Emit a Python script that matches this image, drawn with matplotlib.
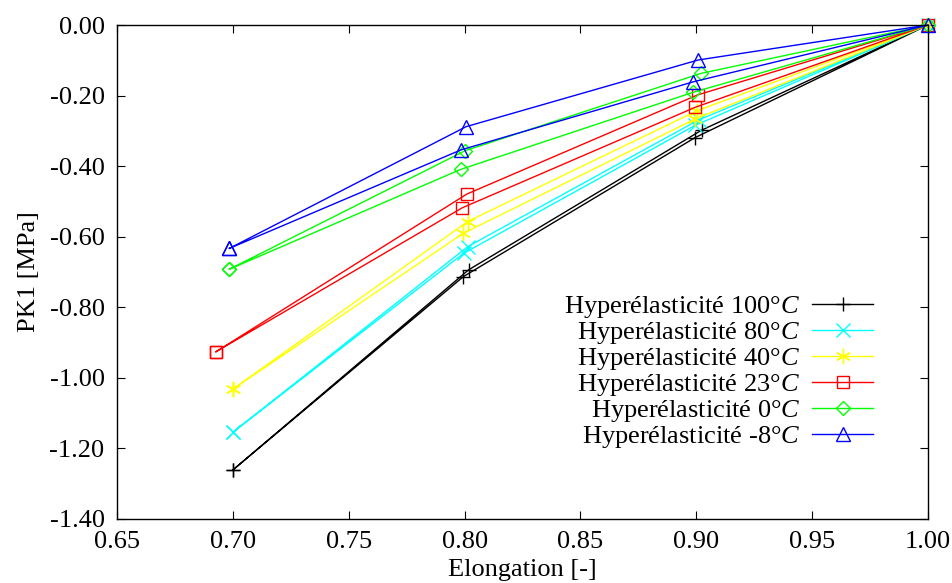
import numpy as np
import matplotlib
matplotlib.use('Agg')
import matplotlib.pyplot as plt
from matplotlib.ticker import FormatStrFormatter, MultipleLocator

plt.rcParams['font.family'] = ['Liberation Serif', 'DejaVu Serif']
plt.rcParams['mathtext.fontset'] = 'custom'
plt.rcParams['mathtext.rm'] = 'Liberation Serif'
plt.rcParams['mathtext.it'] = 'Liberation Serif:italic'

# loading / unloading loops for each temperature (closed path)
temps = ['100', '80', '40', '23', '0', '-8']
x_100 = [0.700, 0.7995, 0.8995, 1.0, 0.9023, 0.8017, 0.700]
y_100 = [-1.261, -0.713, -0.319, 0.0, -0.298, -0.694, -1.261]
x_80 = [0.700, 0.7996, 0.8996, 1.0, 0.9010, 0.8014, 0.700]
y_80 = [-1.154, -0.647, -0.284, 0.0, -0.269, -0.628, -1.154]
x_40 = [0.7002, 0.7995, 0.8996, 1.0, 0.9003, 0.8013, 0.7002]
y_40 = [-1.031, -0.590, -0.266, 0.0, -0.243, -0.557, -1.031]
x_23 = [0.6927, 0.7990, 0.8996, 1.0, 0.9006, 0.8010, 0.6927]
y_23 = [-0.926, -0.518, -0.233, 0.0, -0.198, -0.479, -0.926]
x_0 = [0.6985, 0.7984, 0.8985, 1.0, 0.9021, 0.8003, 0.6985]
y_0 = [-0.692, -0.409, -0.191, 0.0, -0.137, -0.356, -0.692]
x_m8 = [0.6985, 0.7984, 0.8987, 1.0, 0.9009, 0.8007, 0.6985]
y_m8 = [-0.633, -0.354, -0.161, 0.0, -0.099, -0.288, -0.633]

xs = [x_100, x_80, x_40, x_23, x_0, x_m8]
ys = [y_100, y_80, y_40, y_23, y_0, y_m8]
colors = ['black', '#00ffff', '#ffff00', '#ff0000', '#00ff00', '#0000ff']
markers = ['+', 'x', (6, 2, 0), 's', 'D', '^']
msizes = [10, 10, 11, 9, 7, 10]

fig = plt.figure(figsize=(9.53, 5.83), dpi=100)
ax = fig.add_axes([0.1228, 0.1098, 0.851, 0.8473])

for x, y, t, c, m, ms in zip(xs, ys, temps, colors, markers, msizes):
    ax.plot(x, y, color=c, lw=1.0, marker=m, ms=ms, mfc='none', mec=c, mew=1.0,
            clip_on=False, label='Hyperélasticité ' + t + r'$\degree C$')

ax.set_xlim(0.65, 1.00)
ax.set_ylim(-1.40, 0.00)
ax.xaxis.set_major_locator(MultipleLocator(0.05))
ax.yaxis.set_major_locator(MultipleLocator(0.20))
ax.xaxis.set_major_formatter(FormatStrFormatter('%.2f'))
ax.yaxis.set_major_formatter(FormatStrFormatter('%.2f'))
ax.tick_params(direction='in', top=True, right=True, labelsize=19, length=6)
ax.tick_params(axis='y', pad=9)
ax.tick_params(axis='x', pad=9)
for s in ax.spines.values():
    s.set_linewidth(1.0)

ax.set_xlabel('Elongation [-]', fontsize=19, labelpad=4)
ax.set_ylabel('PK1 [MPa]', fontsize=19, labelpad=7)

leg = ax.legend(loc='lower right', bbox_to_anchor=(0.932, 0.139), frameon=False,
                markerfirst=False, fontsize=19, handlelength=2.3,
                labelspacing=0.0, borderpad=0, borderaxespad=0, handletextpad=0.45)
for t in leg.get_texts():
    t.set_ha('right')
leg._legend_box.align = 'right'

fig.savefig('out.png', dpi=100)
